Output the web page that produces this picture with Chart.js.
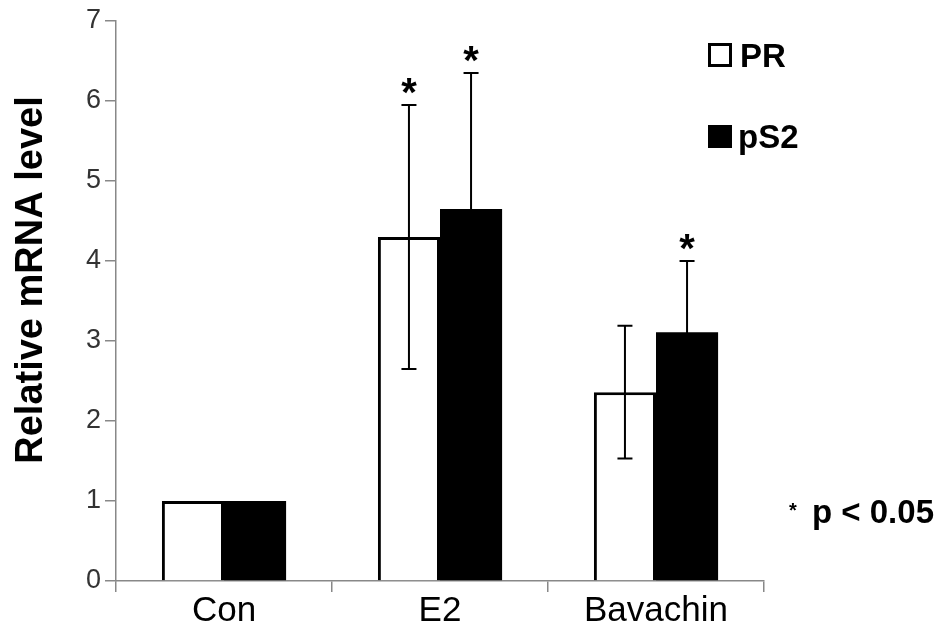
<!DOCTYPE html>
<html>
<head>
<meta charset="utf-8">
<script src="https://cdn.jsdelivr.net/npm/chart.js@4"></script>
<style>
  html, body { margin: 0; padding: 0; background: #fff; }
  #wrap { width: 947px; height: 627px; }
</style>
</head>
<body>
<div id="wrap"><canvas id="mrnaChart" width="947" height="627"></canvas></div>
<script>
// data
var categories = ['Con', 'E2', 'Bavachin'];
var prValues = [1, 4.3, 2.36];
var ps2Values = [1, 4.65, 3.11];
var prErrors = [0, 1.65, 0.83];
var ps2Errors = [0, 1.7, 0.89];
var prStars = [false, true, false];
var ps2Stars = [false, true, true];
var yTicks = [0, 1, 2, 3, 4, 5, 6, 7];

var FONT = '"Liberation Sans", Arial, sans-serif';

// error bars + asterisks + custom legend and notes
var annotPlugin = {
    id: 'annot',
    afterDatasetsDraw: function (chart) {
        var ctx = chart.ctx;
        var y = chart.scales.y;
        var errs = [prErrors, ps2Errors];
        var stars = [prStars, ps2Stars];
        ctx.save();
        chart.data.datasets.forEach(function (ds, di) {
            var meta = chart.getDatasetMeta(di);
            meta.data.forEach(function (bar, i) {
                var e = errs[di][i];
                if (!e) return;
                var v = ds.data[i];
                var yt = y.getPixelForValue(v + e);
                var yb = y.getPixelForValue(v - e);
                var x = bar.x;
                ctx.strokeStyle = '#000';
                ctx.lineWidth = 2;
                ctx.beginPath();
                ctx.moveTo(x, yt); ctx.lineTo(x, yb);
                ctx.moveTo(x - 7.5, yt); ctx.lineTo(x + 7.5, yt);
                ctx.moveTo(x - 7.5, yb); ctx.lineTo(x + 7.5, yb);
                ctx.stroke();
                if (stars[di][i]) {
                    ctx.fillStyle = '#000';
                    ctx.font = 'bold 40px ' + FONT;
                    ctx.textAlign = 'center';
                    ctx.textBaseline = 'alphabetic';
                    ctx.fillText('*', x, yt + 1);
                }
            });
        });

        // legend
        ctx.lineWidth = 3;
        ctx.strokeStyle = '#000';
        ctx.fillStyle = '#000';
        ctx.strokeRect(709.5, 44.5, 21, 21);
        ctx.fillRect(708, 125, 24, 23);
        ctx.font = 'bold 33px ' + FONT;
        ctx.textAlign = 'left';
        ctx.textBaseline = 'alphabetic';
        ctx.fillText('PR', 740, 67);
        ctx.fillText('pS2', 738, 148);

        // significance note
        ctx.font = 'bold 20px ' + FONT;
        ctx.fillText('*', 789, 517);
        ctx.font = 'bold 33px ' + FONT;
        ctx.fillText('p < 0.05', 812, 523);

        // y axis title
        ctx.translate(42, 280);
        ctx.rotate(-Math.PI / 2);
        ctx.font = 'bold 38px ' + FONT;
        ctx.textAlign = 'center';
        ctx.textBaseline = 'alphabetic';
        ctx.fillText('Relative mRNA level', 0, 0);
        ctx.restore();
    }
};

var ctx = document.getElementById('mrnaChart').getContext('2d');
new Chart(ctx, {
    type: 'bar',
    data: {
        labels: categories,
        datasets: [{
            label: 'PR',
            data: prValues,
            backgroundColor: '#fff',
            borderColor: '#000',
            borderWidth: 3,
            barPercentage: 1,
            categoryPercentage: 0.575
        }, {
            label: 'pS2',
            data: ps2Values,
            backgroundColor: '#000',
            borderColor: '#000',
            borderWidth: 0,
            barPercentage: 1,
            categoryPercentage: 0.575
        }]
    },
    options: {
        responsive: false,
        animation: false,
        layout: { padding: { top: 21, right: 183, left: 0, bottom: 0 } },
        plugins: {
            legend: { display: false },
            tooltip: { enabled: false }
        },
        scales: {
            x: {
                grid: {
                    offset: true,
                    drawOnChartArea: false,
                    drawTicks: true,
                    tickLength: 11,
                    color: '#888',
                    lineWidth: 1.5
                },
                border: { color: '#888', width: 1.5 },
                ticks: {
                    color: '#000',
                    font: { family: FONT, size: 35 },
                    padding: -2
                },
                afterFit: function (s) { s.height = 46; }
            },
            y: {
                min: 0,
                max: 7,
                afterBuildTicks: function (s) {
                    s.ticks = yTicks.map(function (v) { return { value: v }; });
                },
                grid: {
                    drawOnChartArea: false,
                    drawTicks: true,
                    tickLength: 11,
                    color: '#888',
                    lineWidth: 1.5
                },
                border: { color: '#888', width: 1.5 },
                ticks: {
                    color: '#333',
                    font: { family: FONT, size: 27 },
                    padding: 4
                },
                afterFit: function (s) { s.width = 116; }
            }
        }
    },
    plugins: [annotPlugin]
});
</script>
</body>
</html>
